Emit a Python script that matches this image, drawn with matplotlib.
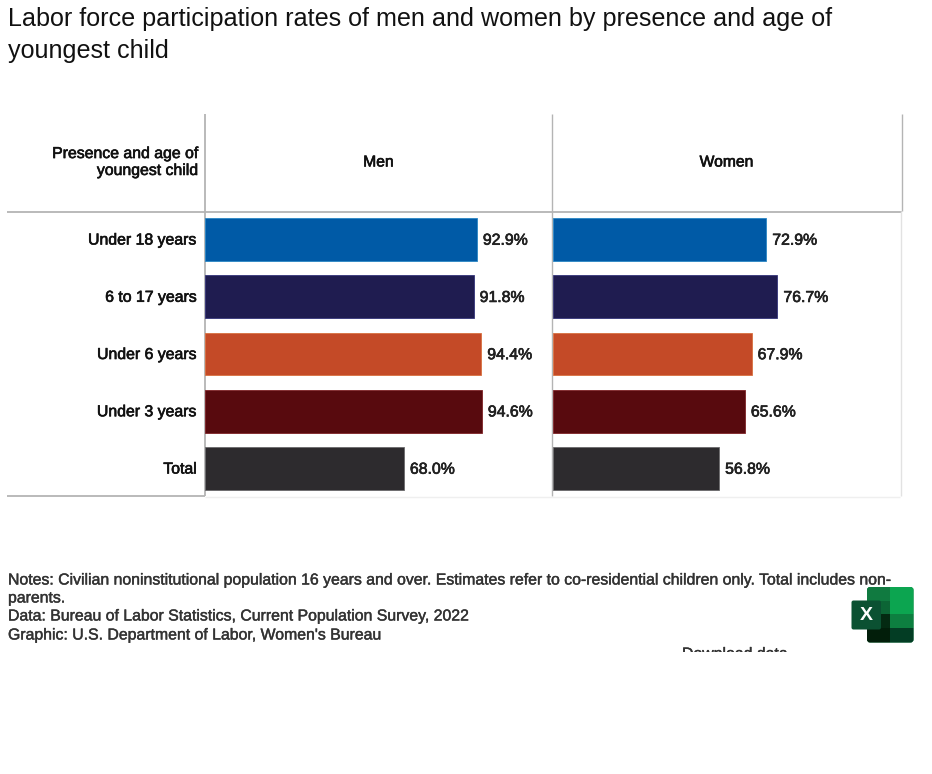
import matplotlib
matplotlib.use("Agg")
import matplotlib.pyplot as plt
from matplotlib.patches import Rectangle, FancyBboxPatch
from matplotlib.transforms import Bbox, ScaledTranslation
import matplotlib.patheffects as pe

plt.rcParams['font.family'] = ['Liberation Sans', 'DejaVu Sans']

categories = ["Under 18 years", "6 to 17 years", "Under 6 years", "Under 3 years", "Total"]
men = [92.9, 91.8, 94.4, 94.6, 68.0]
women = [72.9, 76.7, 67.9, 65.6, 56.8]
bar_colors = ["#005AA6", "#1F1C50", "#C44A27", "#580A0E", "#2D2B2E"]
edge_colors = ["#2A86C4", "#34347A", "#D8703F", "#7E2226", "#6A6A6C"]
panel_titles = ["Men", "Women"]
title = "Labor force participation rates of men and women by presence and age of\nyoungest child"
notes = ["Notes: Civilian noninstitutional population 16 years and over. Estimates refer to co-residential children only. Total includes non-",
         "parents.",
         "Data: Bureau of Labor Statistics, Current Population Survey, 2022",
         "Graphic: U.S. Department of Labor, Women's Bureau"]

W, H = 932, 774
FS = 11.4
fig = plt.figure(figsize=(W/100, H/100), dpi=100, facecolor="white")

def axbox(x0, y0, x1, y1):
    return [x0/W, 1-y1/H, (x1-x0)/W, (y1-y0)/H]

bg = fig.add_axes([0, 0, 1, 1])
bg.set_xlim(0, W); bg.set_ylim(H, 0); bg.axis("off")

stroke = [pe.withStroke(linewidth=0.45, foreground="#111111")]
lines = [((7, 204.5), (211.5, 211.5), "#B4B4B4", 1.3),
         ((204.5, 902), (211.5, 211.5), "#B4B4B4", 1.3),
         ((204.5, 204.5), (114, 496), "#B4B4B4", 1.3),
         ((552, 552), (114, 496), "#B4B4B4", 1.0),
         ((902, 902), (114, 211), "#B4B4B4", 1.0),
         ((900.5, 900.5), (211, 496), "#E2E2E2", 1.0),
         ((7, 204.5), (496, 496), "#B4B4B4", 1.3),
         ((205, 900), (496.5, 496.5), "#EFEFEF", 1.0)]
for xs, ys, c, lw in lines:
    bg.plot(xs, ys, color=c, lw=lw, solid_capstyle="butt", zorder=1)

for i, (vals, tt, box) in enumerate(zip([men, women], panel_titles,
                                        [(204.7, 552), (552.7, 900)])):
    ax = fig.add_axes(axbox(box[0], 211, box[1], 496))
    ax.patch.set_alpha(0)
    ax.barh(range(len(categories)), vals, height=0.75, color=bar_colors,
            edgecolor=edge_colors, linewidth=0.6)
    ax.set_xlim(0, (box[1]-box[0])/2.93)
    ax.set_ylim(4.48, -0.498)
    ax.set_xticks([])
    for s in ax.spines.values():
        s.set_visible(False)
    ax.set_yticks(range(len(categories)))
    if i == 0:
        ax.set_yticklabels(categories, fontsize=FS, color="#111111",
                           path_effects=stroke)
        ax.tick_params(axis="y", length=0, pad=5.6)
        up = ScaledTranslation(0, 1/100, fig.dpi_scale_trans)
        for lab in ax.get_yticklabels():
            lab.set_transform(lab.get_transform() + up)
    else:
        ax.set_yticklabels([])
        ax.tick_params(axis="y", length=0)
    for j, v in enumerate(vals):
        ax.annotate(f"{v:.1f}%", (v, j), xytext=(4.3, -0.5), textcoords="offset points",
                    va="center", ha="left", fontsize=FS, color="#222222",
                    path_effects=stroke)
    bg.text((box[0]+box[1])/2, 162, tt, ha="center", va="center",
            fontsize=FS*0.99, color="#111111", path_effects=stroke)

bg.text(198.5, 162, "Presence and age of\nyoungest child", ha="right", va="center",
        fontsize=FS, color="#111111", linespacing=1.16, path_effects=stroke)

bg.text(8, 35, title, ha="left", va="center", fontsize=18.07, color="#111111",
        linespacing=1.37)

for txt, y in zip(notes, [580, 598, 616, 635]):
    bg.text(8, y, txt, ha="left", va="center", fontsize=FS, color="#333333",
            path_effects=[pe.withStroke(linewidth=0.3, foreground="#333333")])

dl = bg.text(682, 654, "Download data", ha="left", va="center", fontsize=FS,
             color="#333333", path_effects=[pe.withStroke(linewidth=0.3, foreground="#333333")])
dl.set_clip_box(Bbox([[0, H-651.5], [W, H]]))
dl.set_clip_on(True)

# Excel icon
body = FancyBboxPatch((869, 589), 42.5, 51.5, boxstyle="round,pad=2,rounding_size=3",
                      facecolor="#107C41", edgecolor="none", zorder=2)
bg.add_patch(body)
def rect(x0, y0, x1, y1, c, z=3):
    r = Rectangle((x0, y0), x1-x0, y1-y0, facecolor=c, edgecolor="none", zorder=z)
    bg.add_patch(r)
    r.set_clip_path(body)
rect(890, 586, 914, 601, "#0CA550")
rect(890, 601, 914, 614, "#0CA550")
rect(890, 614, 914, 628, "#0D7F40")
rect(890, 628, 914, 643, "#033D24")
rect(866, 586, 890, 601, "#107A40")
rect(866, 601, 890, 614, "#0C6535")
rect(866, 614, 890, 628, "#042A12")
rect(866, 628, 890, 643, "#021E0A")
bg.add_patch(FancyBboxPatch((852, 601), 28.5, 28, boxstyle="round,pad=0.5,rounding_size=2",
                            facecolor="#0B5132", edgecolor="none", zorder=4))
bg.text(866.5, 615.5, "X", ha="center", va="center", color="white", fontsize=14,
        fontweight="bold", zorder=5)

fig.savefig("out.png", dpi=100, facecolor="white")
